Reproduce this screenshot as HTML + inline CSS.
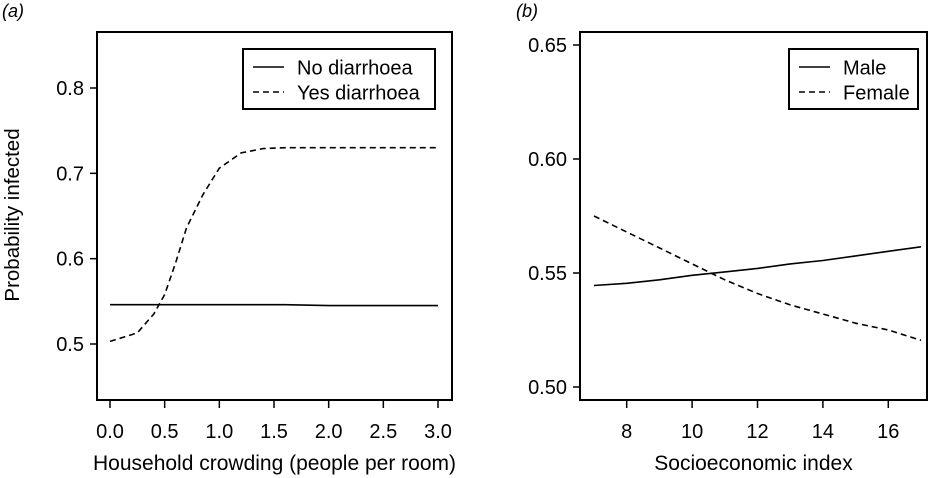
<!DOCTYPE html>
<html><head><meta charset="utf-8"><style>
html,body{margin:0;padding:0;background:#fff}
svg{display:block}
text{font-family:"Liberation Sans",sans-serif;fill:#000}
</style></head><body>
<svg id="chart" width="936" height="478" xmlns="http://www.w3.org/2000/svg"></svg>
<script>
const aX=[0,0.25,0.4,0.5,0.6,0.7,0.85,1.0,1.2,1.4,1.6,2.0,2.5,3.0];
const aNo=[0.546,0.546,0.546,0.546,0.546,0.546,0.546,0.546,0.546,0.546,0.546,0.545,0.545,0.545];
const aYes=[0.503,0.513,0.535,0.558,0.595,0.636,0.675,0.706,0.724,0.729,0.730,0.730,0.730,0.730];
const aXTicks=[0,0.5,1.0,1.5,2.0,2.5,3.0];
const aYTicks=[0.5,0.6,0.7,0.8];
const bX=[7,8,9,10,11,12,13,14,15,16,17];
const bMale=[0.5445,0.5455,0.547,0.549,0.5505,0.552,0.554,0.5555,0.5575,0.5595,0.5615];
const bFemale=[0.575,0.568,0.561,0.554,0.547,0.541,0.536,0.532,0.528,0.525,0.5205];
const bXTicks=[8,10,12,14,16];
const bYTicks=[0.50,0.55,0.60,0.65];

const svg=document.getElementById('chart');
const NS='http://www.w3.org/2000/svg';
function mk(tag,attrs,parent){const e=document.createElementNS(NS,tag);for(const k in attrs)e.setAttribute(k,attrs[k]);(parent||svg).appendChild(e);return e;}
function txt(s,x,y,anchor,size,parent){const t=mk('text',{x:x,y:y,'text-anchor':anchor,'font-size':size},parent);t.textContent=s;return t;}

function panel(cfg){
  const g=mk('g',{});
  
  
  const sx=v=>cfg.x0+(v-cfg.xmin)/(cfg.xmax-cfg.xmin)*(cfg.x1-cfg.x0);
  const sy=v=>cfg.y0+(v-cfg.ymin)/(cfg.ymax-cfg.ymin)*(cfg.y1-cfg.y0);
  const box=mk('rect',{x:cfg.bx0,y:cfg.by0,width:cfg.bx1-cfg.bx0,height:cfg.by1-cfg.by0,fill:'none',stroke:'#000','stroke-width':2},g);
  
  
  const yax=mk('g',{},g);
  
  
  cfg.yt.forEach(v=>{const y=sy(v);mk('line',{x1:cfg.bx0-7,x2:cfg.bx0,y1:y,y2:y,stroke:'#000','stroke-width':1.5},yax);
    const t=txt(v.toFixed(cfg.ydec),cfg.bx0-13,y+7,'end',20,yax);
    
    });
  const xax=mk('g',{},g);
  
  
  cfg.xt.forEach(v=>{const x=sx(v);mk('line',{x1:x,x2:x,y1:cfg.by1,y2:cfg.by1+8,stroke:'#000','stroke-width':1.5},xax);
    const t=txt(v.toFixed(cfg.xdec),x,438,'middle',20,xax);
    
    });
  const xt=txt(cfg.xlabel,(cfg.bx0+cfg.bx1)/2,470,'middle',21,g);
  
  
  const pl=txt(cfg.tag,cfg.tagx,17,'start',18,g);
  pl.setAttribute('font-style','italic');
  
  
  cfg.series.forEach(s=>{
    const d=cfg.xs.map((v,i)=>(i?'L':'M')+sx(v).toFixed(1)+','+sy(s.vals[i]).toFixed(1)).join(' ');
    const p=mk('path',{d:d,fill:'none',stroke:'#000','stroke-width':1.6,'stroke-dasharray':s.dash?'6,4':'none'},g);
    
    
  });
  const lg=mk('g',{},g);
  
  
  mk('rect',{x:cfg.lx0,y:49,width:cfg.lx1-cfg.lx0,height:60,fill:'#fff',stroke:'#000','stroke-width':2},lg);
  cfg.series.forEach((s,i)=>{const y=67+i*25;
    const e=mk('g',{},lg);
    
    
    mk('line',{x1:cfg.lx0+10,x2:cfg.lx0+41,y1:y,y2:y,stroke:'#000','stroke-width':1.6,'stroke-dasharray':s.dash?'6,4':'none'},e);
    txt(s.label,cfg.lx0+54,y+7.5,'start',20,e);});
}
panel({name:'panel-a',tag:'(a)',tagx:2,bx0:97,bx1:452,by0:32,by1:400,x0:110,x1:438,xmin:0,xmax:3,y0:344,y1:88,ymin:0.5,ymax:0.8,
  xt:aXTicks,yt:aYTicks,xdec:1,ydec:1,xlabel:'Household crowding (people per room)',xs:aX,lx0:243,lx1:435,
  series:[{name:'line-no-diarrhoea',label:'No diarrhoea',vals:aNo,dash:false},{name:'line-yes-diarrhoea',label:'Yes diarrhoea',vals:aYes,dash:true}]});
panel({name:'panel-b',tag:'(b)',tagx:516,bx0:580,bx1:927,by0:32,by1:400,x0:594,x1:921,xmin:7,xmax:17,y0:387,y1:45,ymin:0.5,ymax:0.65,
  xt:bXTicks,yt:bYTicks,xdec:0,ydec:2,xlabel:'Socioeconomic index',xs:bX,lx0:789,lx1:918,
  series:[{name:'line-male',label:'Male',vals:bMale,dash:false},{name:'line-female',label:'Female',vals:bFemale,dash:true}]});
const yl=txt('Probability infected',0,0,'middle',20.5);
yl.setAttribute('transform','translate(19,215) rotate(-90)');


</script>
</body></html>
